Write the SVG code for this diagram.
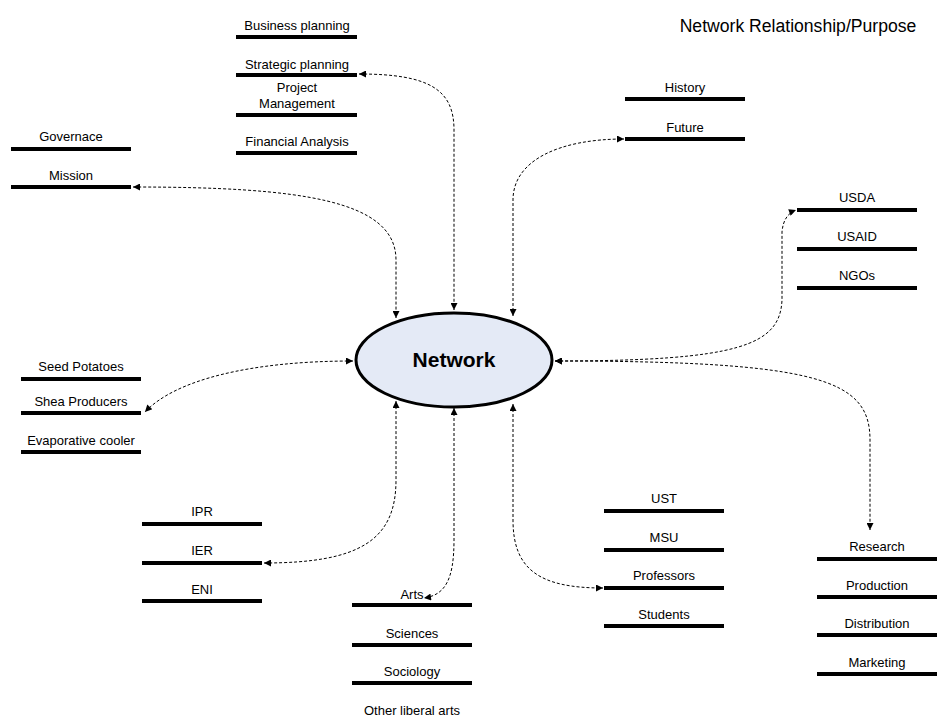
<svg xmlns="http://www.w3.org/2000/svg" width="938" height="719" viewBox="0 0 938 719">
<defs>
<style>
.lbl{font-family:"Liberation Sans",Arial,sans-serif;font-size:13px;fill:#000;text-anchor:middle}
.bar{stroke:#000;stroke-width:4}
.con{fill:none;stroke:#000;stroke-width:1;stroke-dasharray:3,2}
</style>
<marker id="ah" viewBox="0 0 10 10" refX="10" refY="5" markerWidth="9" markerHeight="7" markerUnits="userSpaceOnUse" orient="auto-start-reverse">
<path d="M0,0 L10,5 L0,10 z" fill="#000"/>
</marker>
</defs>
<rect width="938" height="719" fill="#fff"/>
<text x="798" y="32" style="font-family:'Liberation Sans',Arial,sans-serif;font-size:17.6px;text-anchor:middle">Network Relationship/Purpose</text>

<g id="connectors">
<path class="con" d="M359 74 C430 74 454 90 454 130 L454 310" marker-start="url(#ah)" marker-end="url(#ah)"/>
<path class="con" d="M133 187 C300 187 396 200 396 260 L396 318" marker-start="url(#ah)" marker-end="url(#ah)"/>
<path class="con" d="M513 316 L513 200 C513 160 560 139 624 139" marker-start="url(#ah)" marker-end="url(#ah)"/>
<path class="con" d="M555 361 C740 361 780 345 782 300 L782 232 C783 220 788 213 796 210" marker-start="url(#ah)" marker-end="url(#ah)"/>
<path class="con" d="M555 361 C820 361 870 380 870 440 L870 530" marker-start="url(#ah)" marker-end="url(#ah)"/>
<path class="con" d="M353 361 C250 361 175 380 145 412" marker-start="url(#ah)" marker-end="url(#ah)"/>
<path class="con" d="M264 563 C360 563 396 540 396 480 L396 401" marker-start="url(#ah)" marker-end="url(#ah)"/>
<path class="con" d="M454 408 L454 540 C454 580 445 595 424 598" marker-start="url(#ah)" marker-end="url(#ah)"/>
<path class="con" d="M513 404 L513 520 C513 570 540 588 603 588" marker-start="url(#ah)" marker-end="url(#ah)"/>
</g>

<g id="network">
<ellipse cx="454" cy="360" rx="98" ry="47" fill="#e4eaf6" stroke="#000" stroke-width="3"/>
<text x="454" y="367" style="font-family:'Liberation Sans',Arial,sans-serif;font-size:21px;font-weight:bold;text-anchor:middle">Network</text>
</g>

<g id="business-planning"><line class="bar" x1="236" y1="37" x2="357" y2="37"/><text class="lbl" x="297" y="30">Business planning</text></g>
<g id="strategic-planning"><line class="bar" x1="236" y1="75" x2="357" y2="75"/><text class="lbl" x="297" y="69">Strategic planning</text></g>
<g id="project-management"><line class="bar" x1="236" y1="115" x2="357" y2="115"/><text class="lbl" x="297" y="92">Project</text><text class="lbl" x="297" y="108">Management</text></g>
<g id="financial-analysis"><line class="bar" x1="236" y1="153" x2="357" y2="153"/><text class="lbl" x="297" y="146">Financial Analysis</text></g>

<g id="governace"><line class="bar" x1="11" y1="149" x2="131" y2="149"/><text class="lbl" x="71" y="141">Governace</text></g>
<g id="mission"><line class="bar" x1="11" y1="187" x2="131" y2="187"/><text class="lbl" x="71" y="180">Mission</text></g>

<g id="history"><line class="bar" x1="625" y1="99" x2="745" y2="99"/><text class="lbl" x="685" y="92">History</text></g>
<g id="future"><line class="bar" x1="625" y1="139" x2="745" y2="139"/><text class="lbl" x="685" y="132">Future</text></g>

<g id="usda"><line class="bar" x1="797" y1="210" x2="917" y2="210"/><text class="lbl" x="857" y="202">USDA</text></g>
<g id="usaid"><line class="bar" x1="797" y1="249" x2="917" y2="249"/><text class="lbl" x="857" y="241">USAID</text></g>
<g id="ngos"><line class="bar" x1="797" y1="288" x2="917" y2="288"/><text class="lbl" x="857" y="280">NGOs</text></g>

<g id="seed-potatoes"><line class="bar" x1="21" y1="379" x2="141" y2="379"/><text class="lbl" x="81" y="371">Seed Potatoes</text></g>
<g id="shea-producers"><line class="bar" x1="21" y1="413" x2="141" y2="413"/><text class="lbl" x="81" y="406">Shea Producers</text></g>
<g id="evaporative-cooler"><line class="bar" x1="21" y1="452" x2="141" y2="452"/><text class="lbl" x="81" y="445">Evaporative cooler</text></g>

<g id="ipr"><line class="bar" x1="142" y1="524" x2="262" y2="524"/><text class="lbl" x="202" y="516">IPR</text></g>
<g id="ier"><line class="bar" x1="142" y1="563" x2="262" y2="563"/><text class="lbl" x="202" y="555">IER</text></g>
<g id="eni"><line class="bar" x1="142" y1="601" x2="262" y2="601"/><text class="lbl" x="202" y="594">ENI</text></g>

<g id="arts"><line class="bar" x1="352" y1="605" x2="472" y2="605"/><text class="lbl" x="412" y="599">Arts</text></g>
<g id="sciences"><line class="bar" x1="352" y1="645" x2="472" y2="645"/><text class="lbl" x="412" y="638">Sciences</text></g>
<g id="sociology"><line class="bar" x1="352" y1="683" x2="472" y2="683"/><text class="lbl" x="412" y="676">Sociology</text></g>
<g id="other-liberal-arts"><text class="lbl" x="412" y="715">Other liberal arts</text></g>

<g id="ust"><line class="bar" x1="604" y1="511" x2="724" y2="511"/><text class="lbl" x="664" y="503">UST</text></g>
<g id="msu"><line class="bar" x1="604" y1="550" x2="724" y2="550"/><text class="lbl" x="664" y="542">MSU</text></g>
<g id="professors"><line class="bar" x1="604" y1="588" x2="724" y2="588"/><text class="lbl" x="664" y="580">Professors</text></g>
<g id="students"><line class="bar" x1="604" y1="626" x2="724" y2="626"/><text class="lbl" x="664" y="619">Students</text></g>

<g id="research"><line class="bar" x1="817" y1="559" x2="937" y2="559"/><text class="lbl" x="877" y="551">Research</text></g>
<g id="production"><line class="bar" x1="817" y1="597" x2="937" y2="597"/><text class="lbl" x="877" y="590">Production</text></g>
<g id="distribution"><line class="bar" x1="817" y1="635" x2="937" y2="635"/><text class="lbl" x="877" y="628">Distribution</text></g>
<g id="marketing"><line class="bar" x1="817" y1="674" x2="937" y2="674"/><text class="lbl" x="877" y="667">Marketing</text></g>
</svg>
